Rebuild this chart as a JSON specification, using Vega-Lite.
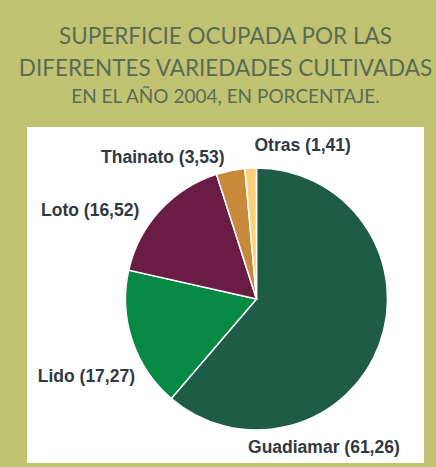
{
  "$schema": "https://vega.github.io/schema/vega-lite/v6.json",
  "width": 397,
  "height": 336,
  "autosize": {"type": "none"},
  "padding": {"left": 27, "right": 12, "top": 127, "bottom": 4},
  "background": "#c2c372",
  "view": {"fill": "white", "stroke": null},
  "title": {
    "text": ["SUPERFICIE OCUPADA POR LAS", "DIFERENTES VARIEDADES CULTIVADAS"],
    "subtitle": "EN EL AÑO 2004, EN PORCENTAJE.",
    "anchor": "middle",
    "font": "Lato",
    "fontWeight": "normal",
    "fontSize": 22.5,
    "lineHeight": 32,
    "color": "#586c55",
    "subtitleFont": "Lato",
    "subtitleFontWeight": "normal",
    "subtitleFontSize": 19,
    "subtitleColor": "#586c55",
    "subtitlePadding": 8,
    "offset": 20
  },
  "data": {
    "values": [
      {"variedad": "Guadiamar", "pct": 61.26},
      {"variedad": "Lido", "pct": 17.27},
      {"variedad": "Loto", "pct": 16.52},
      {"variedad": "Thainato", "pct": 3.53},
      {"variedad": "Otras", "pct": 1.41}
    ]
  },
  "transform": [
    {"calculate": "datum.variedad + ' (' + replace(format(datum.pct, '.2f'), '.', ',') + ')'", "as": "etiqueta"}
  ],
  "layer": [
    {
      "mark": {"type": "arc", "radius": 131, "stroke": "white", "strokeWidth": 1.5,
               "x": {"expr": "width/2 + 31"}, "y": {"expr": "height/2 + 4"}},
      "encoding": {
        "theta": {"field": "pct", "type": "quantitative", "stack": true},
        "order": {"field": "pct", "sort": "descending"},
        "color": {
          "field": "variedad", "type": "nominal", "legend": null,
          "scale": {
            "domain": ["Guadiamar", "Lido", "Loto", "Thainato", "Otras"],
            "range": ["#1e5c46", "#058943", "#6b1c45", "#c8893b", "#fdd07c"]
          }
        }
      }
    },
    {
      "mark": {
        "type": "text", "radius": 155, "font": "Liberation Sans", "fontWeight": "bold",
        "fontSize": 17.5, "fill": "#30393f", "align": "center", "baseline": "middle",
        "x": {"expr": "width/2 + 31"}, "y": {"expr": "height/2 + 4"},
        "dx": {"expr": "datum.variedad == 'Guadiamar' ? -78 : datum.variedad == 'Lido' ? -23 : datum.variedad == 'Loto' ? -52 : datum.variedad == 'Thainato' ? -63 : 53"},
        "dy": {"expr": "datum.variedad == 'Guadiamar' ? 95 : datum.variedad == 'Lido' ? 29 : datum.variedad == 'Loto' ? 17 : datum.variedad == 'Thainato' ? 11 : 2"}
      },
      "encoding": {
        "theta": {"field": "pct", "type": "quantitative", "stack": true},
        "order": {"field": "pct", "sort": "descending"},
        "detail": {"field": "variedad", "type": "nominal"},
        "text": {"field": "etiqueta", "type": "nominal"}
      }
    }
  ]
}
